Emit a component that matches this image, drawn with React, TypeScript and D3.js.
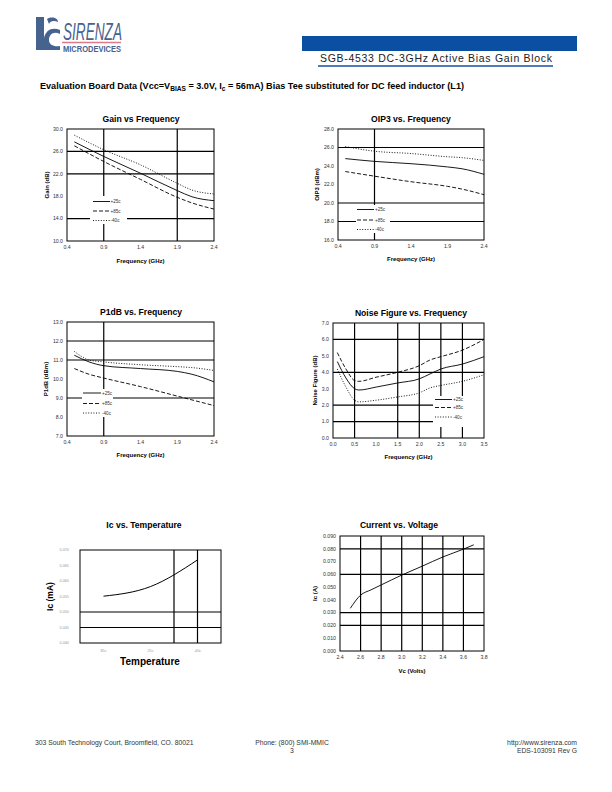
import React from "react";
import * as d3 from "d3";

// ---------- DATA ----------
const gainFreq = [0.5, 0.9, 1.4, 1.9, 2.1, 2.4];
const gain25 = [27.7, 25.1, 22.1, 19.0, 17.9, 17.2];
const gain85 = [27.0, 24.2, 21.0, 17.8, 16.8, 15.7];
const gainM40 = [28.9, 26.3, 23.6, 20.3, 19.1, 18.4];

const oipFreq = [0.5, 0.9, 1.4, 1.9, 2.1, 2.4];
const oip25 = [24.8, 24.5, 24.25, 23.9, 23.7, 23.1];
const oip85 = [23.4, 22.9, 22.3, 21.8, 21.5, 20.9];
const oipM40 = [26.1, 25.6, 25.35, 25.0, 24.9, 24.6];

const p1Freq = [0.5, 0.7, 0.9, 1.4, 1.9, 2.1, 2.4];
const p1_25 = [11.25, 10.9, 10.7, 10.55, 10.4, 10.25, 9.85];
const p1_85 = [10.55, 10.25, 10.05, 9.6, 9.1, 8.9, 8.6];
const p1_M40 = [11.45, 11.0, 10.9, 10.75, 10.65, 10.6, 10.45];

const nfFreq = [0.1, 0.3, 0.5, 0.6, 1.0, 1.5, 2.0, 2.25, 2.5, 3.0, 3.5];
const nf25 = [4.65, 3.65, 3.0, 2.92, 3.1, 3.35, 3.6, 3.9, 4.2, 4.5, 4.95];
const nf85 = [5.2, 4.2, 3.5, 3.45, 3.7, 4.0, 4.4, 4.75, 4.95, 5.35, 6.0];
const nfM40 = [4.2, 3.1, 2.3, 2.2, 2.3, 2.5, 2.75, 3.05, 3.2, 3.45, 3.85];

const icCats = ["85c", "25c", "-40c"];
const icVals = [0.0551, 0.0582, 0.0668];

const cvVolts = [2.5, 2.6, 2.7, 2.8, 3.0, 3.2, 3.4, 3.6, 3.7];
const cvAmps = [0.0334, 0.0437, 0.0478, 0.0517, 0.0594, 0.0664, 0.0736, 0.0797, 0.0831];

const legendLabels = ["+25c", "+85c", "-40c"];
const freqTicks = [0.4, 0.9, 1.4, 1.9, 2.4];
const gainTicks = [10, 14, 18, 22, 26, 30];
const oipTicks = [16, 18, 20, 22, 24, 26, 28];
const p1Ticks = [7, 8, 9, 10, 11, 12, 13];
const nfXTicks = [0, 0.5, 1, 1.5, 2, 2.5, 3, 3.5];
const nfYTicks = [0, 1, 2, 3, 4, 5, 6, 7];
const icTicks = [0.04, 0.045, 0.05, 0.055, 0.06, 0.065, 0.07];
const cvXTicks = [2.4, 2.6, 2.8, 3.0, 3.2, 3.4, 3.6, 3.8];
const cvYTicks = [0, 0.01, 0.02, 0.03, 0.04, 0.05, 0.06, 0.07, 0.08, 0.09];

const FONT = "'Liberation Sans', Arial, sans-serif";
const DASH: Record<string, string | undefined> = { solid: undefined, dashed: "4,2", dotted: "1,1.6" };
const STYLES = ["solid", "dashed", "dotted"];

type Series = { x: number[]; y: number[]; style: string };
type XYProps = {
  x0: number; x1: number; y0: number; y1: number;
  xDom: [number, number]; yDom: [number, number];
  xTicks: number[]; yTicks: number[]; xFmt: (v: number) => string; yFmt: (v: number) => string;
  vGrid: number[]; hGrid: number[];
  series: Series[];
  title: string; titleX: number; titleY: number;
  xLabel: string; xLabelY: number; yLabel: string; yLabelX: number;
  legend?: { x: number; y: number; w: number; h: number; rows: number[]; lineX0: number; lineX1: number; textX: number };
  tickColor?: string; tickSize?: number;
};

function XYChart(p: XYProps) {
  const xs = d3.scaleLinear().domain(p.xDom).range([p.x0, p.x1]);
  const ys = d3.scaleLinear().domain(p.yDom).range([p.y1, p.y0]);
  const line = d3.line<[number, number]>().x((d) => xs(d[0])).y((d) => ys(d[1])).curve(d3.curveMonotoneX);
  const ts = p.tickSize ?? 5.2;
  const tc = p.tickColor ?? "#333";
  return (
    <g fontFamily={FONT}>
      <text x={p.titleX} y={p.titleY} textAnchor="middle" fontWeight="bold" fontSize={8.6}>{p.title}</text>
      {p.hGrid.map((v) => (
        <line key={"h" + v} x1={p.x0} x2={p.x1} y1={ys(v)} y2={ys(v)} stroke="#000" strokeWidth={1.2} />
      ))}
      {p.vGrid.map((v) => (
        <line key={"v" + v} x1={xs(v)} x2={xs(v)} y1={p.y0} y2={p.y1} stroke="#000" strokeWidth={1.2} />
      ))}
      {p.series.map((s, i) => (
        <path key={i} d={line(s.x.map((x, j) => [x, s.y[j]] as [number, number])) || ""} fill="none"
          stroke="#000" strokeWidth={0.9} strokeDasharray={DASH[s.style]} />
      ))}
      {p.legend && (
        <g>
          <rect x={p.legend.x} y={p.legend.y} width={p.legend.w} height={p.legend.h} fill="#fff" />
          {p.legend.rows.map((ry, i) => (
            <g key={i}>
              <line x1={p.legend!.lineX0} x2={p.legend!.lineX1} y1={ry} y2={ry} stroke="#000" strokeWidth={0.9}
                strokeDasharray={DASH[STYLES[i]]} />
              <text x={p.legend!.textX} y={ry + 1.6} fontSize={4.6} fill="#333">{legendLabels[i]}</text>
            </g>
          ))}
        </g>
      )}
      <rect x={p.x0} y={p.y0} width={p.x1 - p.x0} height={p.y1 - p.y0} fill="none" stroke="#000" strokeWidth={1} />
      {p.xTicks.map((v) => (
        <text key={"xt" + v} x={xs(v)} y={p.y1 + 7.5} textAnchor="middle" fontSize={ts} fill={tc}>{p.xFmt(v)}</text>
      ))}
      {p.yTicks.map((v) => (
        <text key={"yt" + v} x={p.x0 - 4} y={ys(v) + 1.8} textAnchor="end" fontSize={ts} fill={tc}>{p.yFmt(v)}</text>
      ))}
      <text x={(p.x0 + p.x1) / 2} y={p.xLabelY} textAnchor="middle" fontWeight="bold" fontSize={6}>{p.xLabel}</text>
      <text transform={`translate(${p.yLabelX},${(p.y0 + p.y1) / 2}) rotate(-90)`} textAnchor="middle"
        fontWeight="bold" fontSize={6}>{p.yLabel}</text>
    </g>
  );
}

function IcChart() {
  const x0 = 80, x1 = 221, y0 = 550, y1 = 643;
  const band = d3.scaleBand<string>().domain(icCats).range([x0, x1]);
  const ys = d3.scaleLinear().domain([0.04, 0.07]).range([y1, y0]);
  const cx = (c: string) => (band(c) as number) + band.bandwidth() / 2;
  const line = d3.line<number>().x((_, i) => cx(icCats[i])).y((d) => ys(d)).curve(d3.curveMonotoneX);
  const boundary = (band(icCats[2]) as number);
  return (
    <g fontFamily={FONT}>
      <text x={144} y={528} textAnchor="middle" fontWeight="bold" fontSize={8.6}>Ic vs. Temperature</text>
      {[0.05, 0.045].map((v) => (
        <line key={v} x1={x0} x2={x1} y1={ys(v)} y2={ys(v)} stroke="#000" strokeWidth={1.2} />
      ))}
      <line x1={boundary} x2={boundary} y1={y0} y2={y1} stroke="#000" strokeWidth={1.2} />
      <line x1={cx(icCats[2])} x2={cx(icCats[2])} y1={y0} y2={y1} stroke="#000" strokeWidth={1.2} />
      <path d={line(icVals) || ""} fill="none" stroke="#000" strokeWidth={1} />
      <rect x={x0} y={y0} width={x1 - x0} height={y1 - y0} fill="none" stroke="#000" strokeWidth={1} />
      {icTicks.map((v) => (
        <text key={v} x={x0 - 11} y={ys(v) + 1.3} textAnchor="end" fontSize={3.8} fill="#999">{d3.format(".3f")(v)}</text>
      ))}
      {icCats.map((c) => (
        <text key={c} x={cx(c)} y={y1 + 9} textAnchor="middle" fontSize={3.8} fill="#999">{c}</text>
      ))}
      <text x={150} y={665} textAnchor="middle" fontWeight="bold" fontSize={10}>Temperature</text>
      <text transform={`translate(53,${(y0 + y1) / 2}) rotate(-90)`} textAnchor="middle" fontWeight="bold" fontSize={8.5}>Ic (mA)</text>
    </g>
  );
}

function Logo() {
  const blue = "#46628f";
  return (
    <g>
      <path d="M36,17 L44,17 L44,38 C46,30 52,27 60,30 L60,34 C54,31 49,34 49,40 C49,45 54,47 60,46 L60,50 L36,50 Z" fill={blue} />
      <path d="M47,19 C52,16 58,18 58,22 C54,20 50,21 49,24 Z" fill={blue} />
      <text x={63} y={40} fontFamily={FONT} fontStyle="italic" fontSize={23} fill={blue} textLength={59} lengthAdjust="spacingAndGlyphs">SIRENZA</text>
      <line x1={62} x2={121} y1={42.5} y2={42.5} stroke="#e07a88" strokeWidth={1.6} />
      <text x={63} y={51.5} fontFamily={FONT} fontWeight="bold" fontSize={8.5} fill={blue} textLength={58} lengthAdjust="spacingAndGlyphs">MICRODEVICES</text>
    </g>
  );
}

export default function App() {
  const f1 = (v: number) => d3.format(".1f")(v);
  const legendRows = (a: number, b: number, c: number) => [a, b, c];
  return (
    <svg width={612} height={792} style={{ position: "absolute", left: 0, top: 0, background: "#fff" }}>
      <rect x={0} y={0} width={612} height={792} fill="#fff" />
      <Logo />
      <rect x={302} y={36} width={275} height={15} fill="#0b4fa3" />
      <text x={320} y={62} fontFamily={FONT} fontSize={10.5} fill="#222" letterSpacing={0.7}>SGB-4533 DC-3GHz Active Bias Gain Block</text>
      <line x1={318} x2={553} y1={66} y2={66} stroke="#1a4fa0" strokeWidth={1.6} />
      <text x={40} y={89} fontFamily={FONT} fontWeight="bold" fontSize={9.1} fill="#000">
        Evaluation Board Data (Vcc=V<tspan fontSize={6.6} dy={2}>BIAS</tspan><tspan dy={-2}> = 3.0V, I</tspan><tspan fontSize={6.6} dy={2}>c</tspan><tspan dy={-2}> = 56mA) Bias Tee substituted for DC feed inductor (L1)</tspan>
      </text>

      <XYChart x0={67} x1={214} y0={129} y1={241} xDom={[0.4, 2.4]} yDom={[10, 30]}
        xTicks={freqTicks} yTicks={gainTicks} xFmt={f1} yFmt={f1} vGrid={[0.9, 1.9]} hGrid={[26, 22, 14]}
        series={[{ x: gainFreq, y: gain25, style: "solid" }, { x: gainFreq, y: gain85, style: "dashed" }, { x: gainFreq, y: gainM40, style: "dotted" }]}
        title="Gain vs Frequency" titleX={141} titleY={122} xLabel="Frequency (GHz)" xLabelY={263} yLabel="Gain (dB)" yLabelX={49}
        legend={{ x: 90, y: 196, w: 37, h: 28, rows: legendRows(201.5, 211, 220.5), lineX0: 93, lineX1: 110, textX: 110.5 }} />

      <XYChart x0={338} x1={484} y0={129} y1={240} xDom={[0.4, 2.4]} yDom={[16, 28]}
        xTicks={freqTicks} yTicks={oipTicks} xFmt={f1} yFmt={f1} vGrid={[0.9]} hGrid={[26, 20, 18]}
        series={[{ x: oipFreq, y: oip25, style: "solid" }, { x: oipFreq, y: oip85, style: "dashed" }, { x: oipFreq, y: oipM40, style: "dotted" }]}
        title="OIP3 vs. Frequency" titleX={411} titleY={122} xLabel="Frequency (GHz)" xLabelY={261} yLabel="OIP3 (dBm)" yLabelX={319}
        legend={{ x: 356, y: 205, w: 34, h: 28, rows: legendRows(209.5, 220, 229.5), lineX0: 357, lineX1: 374, textX: 375 }} />

      <XYChart x0={67} x1={214} y0={322} y1={436} xDom={[0.4, 2.4]} yDom={[7, 13]}
        xTicks={freqTicks} yTicks={p1Ticks} xFmt={f1} yFmt={f1} vGrid={[0.9]} hGrid={[12, 11, 9]}
        series={[{ x: p1Freq, y: p1_25, style: "solid" }, { x: p1Freq, y: p1_85, style: "dashed" }, { x: p1Freq, y: p1_M40, style: "dotted" }]}
        title="P1dB vs. Frequency" titleX={141} titleY={315} xLabel="Frequency (GHz)" xLabelY={457} yLabel="P1dB (dBm)" yLabelX={48}
        legend={{ x: 82, y: 389, w: 31, h: 28, rows: legendRows(393, 403.5, 413), lineX0: 83, lineX1: 101, textX: 102 }} />

      <XYChart x0={333} x1={484} y0={323} y1={438} xDom={[0, 3.5]} yDom={[0, 7]}
        xTicks={nfXTicks} yTicks={nfYTicks} xFmt={f1} yFmt={f1} vGrid={[0.5, 1.5, 2.0, 2.5, 3.0]} hGrid={[6, 4, 2, 1]}
        series={[{ x: nfFreq, y: nf25, style: "solid" }, { x: nfFreq, y: nf85, style: "dashed" }, { x: nfFreq, y: nfM40, style: "dotted" }]}
        title="Noise Figure vs. Frequency" titleX={411} titleY={316} xLabel="Frequency (GHz)" xLabelY={459} yLabel="Noise Figure (dB)" yLabelX={317}
        legend={{ x: 433, y: 396, w: 51, h: 31, rows: legendRows(399.5, 407.5, 417), lineX0: 435, lineX1: 452, textX: 453 }} />

      <IcChart />

      <XYChart x0={340} x1={484} y0={536} y1={651} xDom={[2.4, 3.8]} yDom={[0, 0.09]}
        xTicks={cvXTicks} yTicks={cvYTicks} xFmt={f1} yFmt={(v) => d3.format(".3f")(v)}
        vGrid={[2.6, 2.8, 3.0, 3.2, 3.4, 3.6]} hGrid={[0.08, 0.06, 0.03, 0.02]}
        series={[{ x: cvVolts, y: cvAmps, style: "solid" }]}
        title="Current vs. Voltage" titleX={399} titleY={528} xLabel="Vc (Volts)" xLabelY={673} yLabel="Ic (A)" yLabelX={317} />

      <g fontFamily={FONT} fontSize={6.8} fill="#333">
        <text x={35} y={745}>303 South Technology Court, Broomfield, CO. 80021</text>
        <text x={292} y={745} textAnchor="middle">Phone: (800) SMI-MMIC</text>
        <text x={292} y={753} textAnchor="middle">3</text>
        <text x={577} y={745} textAnchor="end">http://www.sirenza.com</text>
        <text x={577} y={753} textAnchor="end">EDS-103091 Rev G</text>
      </g>
    </svg>
  );
}
